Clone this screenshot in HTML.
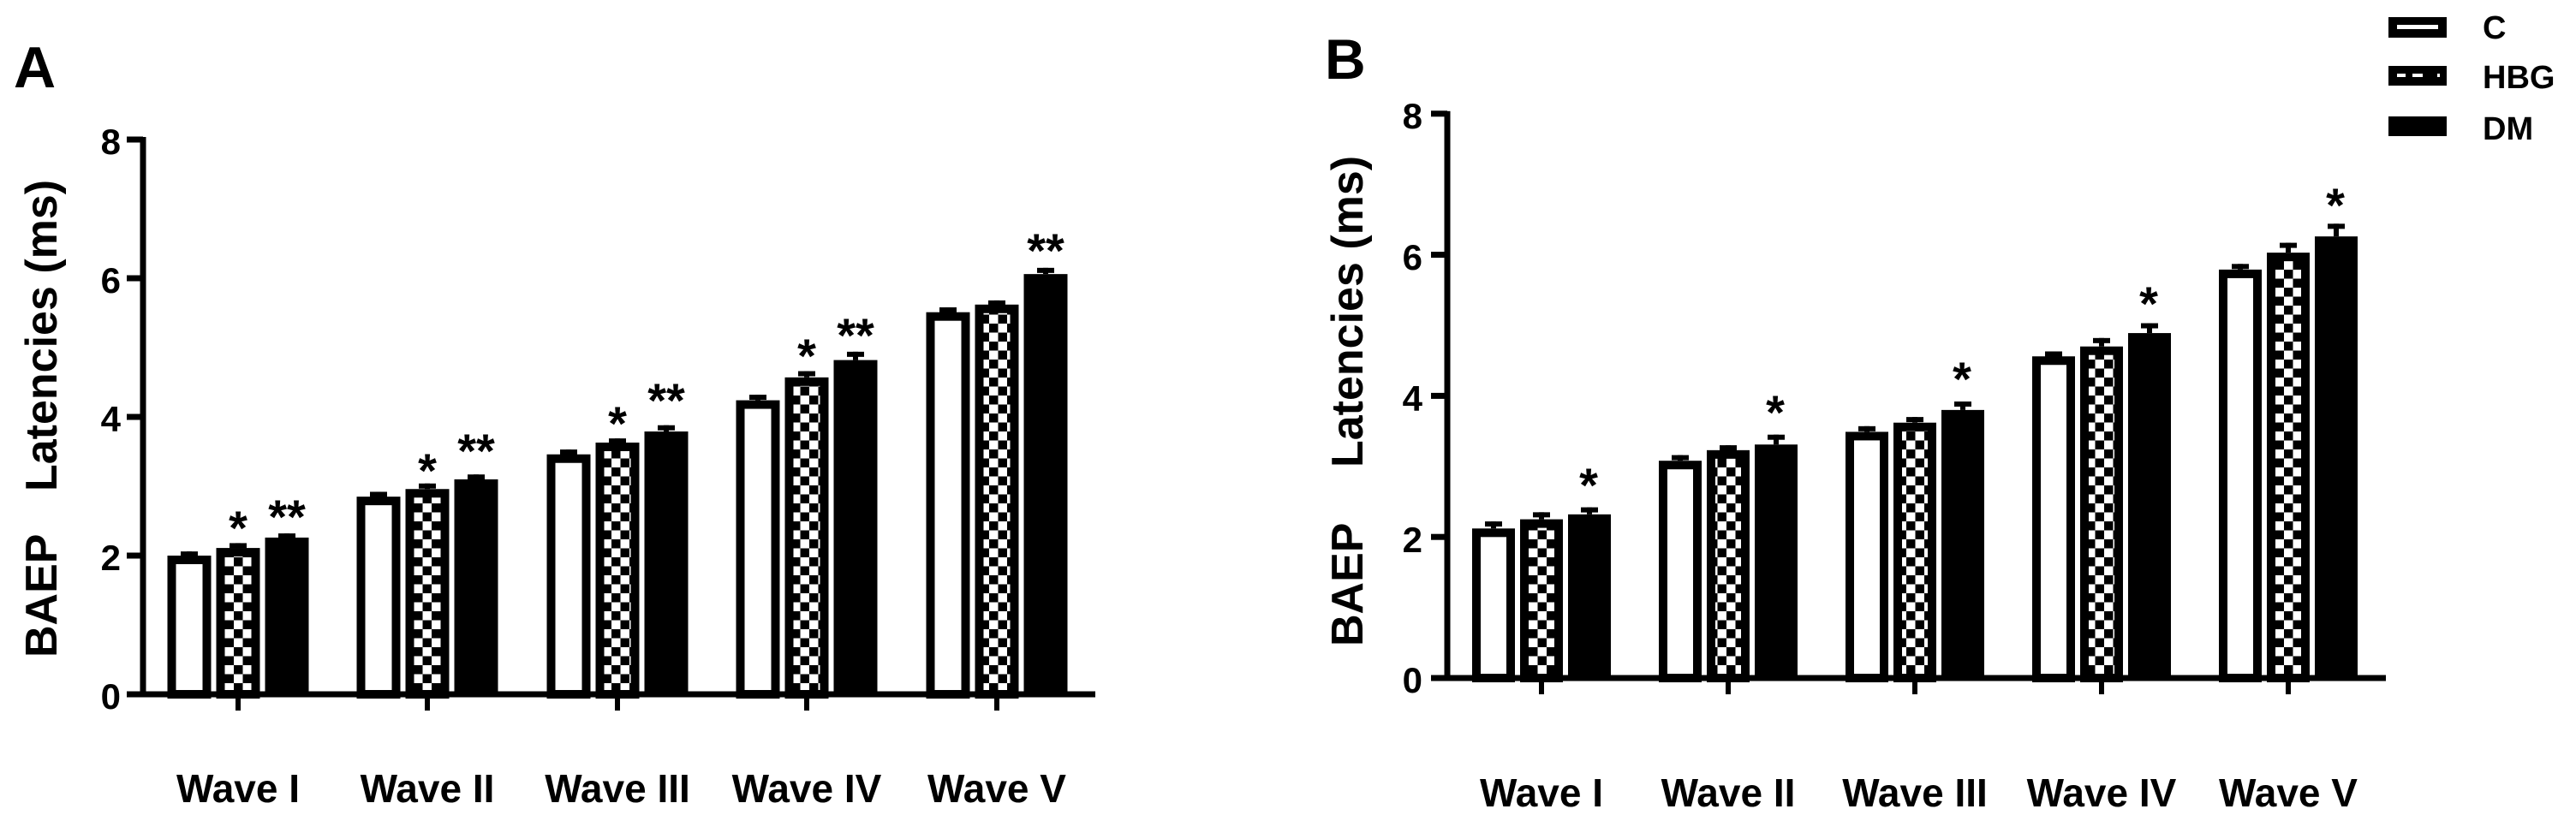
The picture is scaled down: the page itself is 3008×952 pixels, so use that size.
<!DOCTYPE html>
<html><head><meta charset="utf-8"><style>
html,body{margin:0;padding:0;background:#fff;}
svg{display:block;}
text{font-family:"Liberation Sans",Arial,sans-serif;font-weight:bold;fill:#000;}
</style></head><body>
<svg id="s" width="3008" height="952" viewBox="0 0 3008 952" xmlns="http://www.w3.org/2000/svg">
<defs>
<pattern id="chk" x="0" y="0" width="21" height="21" patternUnits="userSpaceOnUse">
<rect width="21" height="21" fill="#fff"/>
<rect x="0" y="0" width="10.5" height="10.5" fill="#000"/>
<rect x="10.5" y="10.5" width="10.5" height="10.5" fill="#000"/>
</pattern>
</defs>
<!-- Panel labels -->
<text x="16" y="102" font-size="68">A</text>
<text x="1547" y="92" font-size="66">B</text>
<!-- Y axis titles -->
<text transform="translate(66,768) rotate(-90)" font-size="52">BAEP</text>
<text transform="translate(66,574) rotate(-90)" font-size="52">Latencies (ms)</text>
<text transform="translate(1591,755) rotate(-90)" font-size="52">BAEP</text>
<text transform="translate(1591,546) rotate(-90)" font-size="52">Latencies (ms)</text>
<!-- A tick labels -->
<g font-size="42" text-anchor="end">
<text x="141" y="180">8</text><text x="141" y="342">6</text><text x="141" y="504">4</text><text x="141" y="666">2</text><text x="141" y="828">0</text>
<text x="1661" y="150">8</text><text x="1661" y="315">6</text><text x="1661" y="480">4</text><text x="1661" y="645">2</text><text x="1661" y="809">0</text>
</g>
<!-- Wave labels -->
<g font-size="46" text-anchor="middle">
<text x="278" y="937">Wave I</text><text x="499" y="937">Wave II</text><text x="721" y="937">Wave III</text><text x="942" y="937">Wave IV</text><text x="1164" y="937">Wave V</text>
<text x="1800" y="942">Wave I</text><text x="2018" y="942">Wave II</text><text x="2236" y="942">Wave III</text><text x="2454" y="942">Wave IV</text><text x="2672" y="942">Wave V</text>
</g>
<!-- Stars A -->
<g font-size="56" text-anchor="middle">
<text x="278" y="636">*</text><text x="335" y="623">**</text>
<text x="499" y="569">*</text><text x="556" y="546">**</text>
<text x="721" y="514">*</text><text x="778" y="487">**</text>
<text x="942" y="435">*</text><text x="999" y="411">**</text>
<text x="1221" y="312">**</text>
<text x="1855" y="586">*</text><text x="2073" y="501">*</text><text x="2291" y="462">*</text><text x="2509" y="374">*</text><text x="2727" y="259">*</text>
</g>
<!-- Legend -->
<rect x="2789" y="20" width="68" height="24" fill="#000"/><rect x="2799" y="29" width="48" height="5" fill="#fff"/>
<rect x="2789" y="77" width="68" height="23" fill="#000"/>
<rect x="2799" y="86" width="10" height="4" fill="#fff"/><rect x="2817" y="86" width="12" height="4" fill="#fff"/><rect x="2846" y="86" width="3" height="4" fill="#fff"/>
<rect x="2789" y="136" width="68" height="23" fill="#000"/>
<g font-size="38"><text x="2899" y="45">C</text><text x="2899" y="103">HBG</text><text x="2899" y="163">DM</text></g>
<g id="bars"></g>
</svg>
<script>
(function(){
var NS="http://www.w3.org/2000/svg",g=document.getElementById('bars');
function r(x,y,w,h,f,st,sw){var e=document.createElementNS(NS,'rect');e.setAttribute('x',x);e.setAttribute('y',y);e.setAttribute('width',w);e.setAttribute('height',h);e.setAttribute('fill',f);if(st){e.setAttribute('stroke',st);e.setAttribute('stroke-width',sw);}g.appendChild(e);}
function panel(ax,x0,x1,y0,ppu,groups,step,bw,data){
 // bars
 groups.forEach(function(c,i){
  for(var k=0;k<3;k++){
   var d=data[i][k],v=d[0],e=d[1];
   var cx=c+(k-1)*step,yt=y0-v*ppu,ye=y0-(v+e)*ppu;
   // error bar
   r(cx-3,ye,6,yt-ye,'#000');r(cx-10,ye,20,6,'#000');
   if(k==2){r(cx-bw/2,yt,bw,y0-yt,'#000');}
   else{r(cx-bw/2+5,yt+5,bw-10,y0-yt-5,k==0?'#fff':'url(#chk)','#000',10);}
  }
  r(c-3,y0,6,19,'#000');
 });
 // axes
 r(ax-3.5,y0-8*ppu-3,7,8*ppu+6,'#000');
 r(x0,y0-3.5,x1-x0,7,'#000');
 for(var t=2;t<=8;t+=2)r(ax-19,y0-t*ppu-3.5,19,7,'#000');
}
panel(167,148,1279,811,81,[278,499,721,942,1164],57,51,
 [[[2.0,0.06],[2.11,0.07],[2.26,0.06]],[[2.85,0.07],[2.96,0.08],[3.10,0.07]],[[3.46,0.07],[3.63,0.06],[3.79,0.09]],[[4.24,0.08],[4.57,0.09],[4.82,0.12]],[[5.51,0.07],[5.62,0.06],[6.06,0.09]]]);
panel(1690,1671,2786,792,82.4,[1800,2018,2236,2454,2672],56,50,
 [[[2.12,0.1],[2.25,0.1],[2.32,0.1]],[[3.08,0.08],[3.23,0.07],[3.31,0.14]],[[3.49,0.08],[3.62,0.08],[3.80,0.12]],[[4.56,0.07],[4.70,0.12],[4.89,0.14]],[[5.79,0.08],[6.03,0.14],[6.26,0.18]]]);
})();
</script>
</body></html>
